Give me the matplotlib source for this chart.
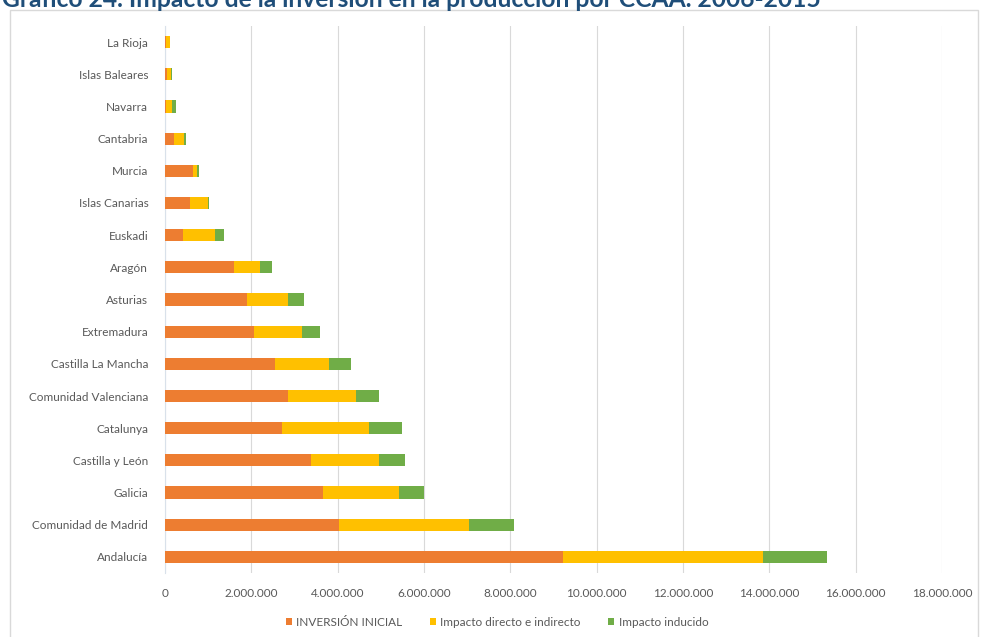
import matplotlib
matplotlib.use("Agg")
import matplotlib.pyplot as plt
from matplotlib.patches import Rectangle
from matplotlib.ticker import FuncFormatter
import numpy as np

regions = ["La Rioja", "Islas Baleares", "Navarra", "Cantabria", "Murcia",
           "Islas Canarias", "Euskadi", "Aragón", "Asturias", "Extremadura",
           "Castilla La Mancha", "Comunidad Valenciana", "Catalunya",
           "Castilla y León", "Galicia", "Comunidad de Madrid", "Andalucía"]
inversion_inicial = [30000, 40000, 20000, 210000, 660000, 580000, 420000,
                     1600000, 1900000, 2060000, 2540000, 2850000, 2700000,
                     3390000, 3650000, 4020000, 9220000]
impacto_directo = [80000, 110000, 150000, 230000, 90000, 420000, 740000,
                   600000, 960000, 1110000, 1260000, 1580000, 2020000,
                   1560000, 1760000, 3030000, 4630000]
impacto_inducido = [10000, 10000, 80000, 40000, 30000, 20000, 210000,
                    280000, 360000, 430000, 500000, 520000, 780000,
                    600000, 580000, 1040000, 1480000]
series_names = ["INVERSIÓN INICIAL", "Impacto directo e indirecto", "Impacto inducido"]
xticks = list(range(0, 18000001, 2000000))

colors = ["#ED7D31", "#FFC000", "#70AD47"]
font = ["Lato", "DejaVu Sans"]
plt.rcParams['font.family'] = font

W, H = 981, 637
fig = plt.figure(figsize=(W / 100, H / 100), dpi=100)

# chart frame
fig.patches.append(Rectangle((10 / W, -0.05), 968 / W, 1.05 - 10 / H,
                             transform=fig.transFigure, fill=False,
                             edgecolor="#D9D9D9", linewidth=1.0))

ax = fig.add_axes([165 / W, 1 - 573 / H, (942 - 165) / W, (573 - 26) / H])
y = np.arange(len(regions))[::-1]
left = np.zeros(len(regions))
for vals, c, name in zip([inversion_inicial, impacto_directo, impacto_inducido],
                         colors, series_names):
    ax.barh(y, vals, left=left, height=0.38, color=c, label=name, zorder=3)
    left = left + np.array(vals)

ax.set_xlim(0, 18000000)
ax.set_ylim(-0.5, len(regions) - 0.5)
ax.set_xticks(xticks)
ax.xaxis.set_major_formatter(FuncFormatter(lambda v, p: f"{int(v):,}".replace(",", ".")))
ax.set_yticks(y)
ax.set_yticklabels(regions)
ax.grid(axis="x", color="#D9D9D9", linewidth=0.8, zorder=0)
for s in ["top", "right", "bottom"]:
    ax.spines[s].set_visible(False)
ax.spines["left"].set_color("#D9E1EA")
ax.spines["left"].set_linewidth(0.8)
ax.tick_params(axis="both", length=0, colors="#595959", labelsize=8.5)
ax.tick_params(axis="y", pad=12)
ax.tick_params(axis="x", pad=11)

leg = fig.legend(loc="center", bbox_to_anchor=(497 / W, 1 - 622 / H), ncol=3,
                 frameon=False, fontsize=8.5, handlelength=0.5, handleheight=0.5,
                 handletextpad=0.4, columnspacing=2.3)
for t in leg.get_texts():
    t.set_color("#595959")

title = fig.text(2 / W, 1 - 7 / H,
                 "Gráfico 24. Impacto de la inversión en la producción por CCAA. 2006-2015",
                 ha="left", va="baseline", fontsize=15, fontweight="bold",
                 color="#1F4E79")
fig.canvas.draw()
bb = title.get_window_extent()
title.set_fontsize(15 * 821 / bb.width)

fig.savefig("out.png", dpi=100)
